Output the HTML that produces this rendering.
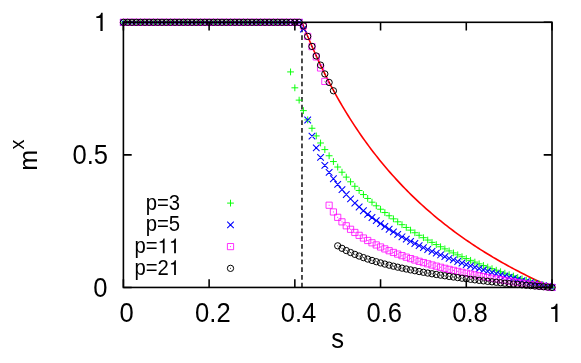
<!DOCTYPE html>
<html><head><meta charset="utf-8"><title>m^x vs s</title>
<style>
html,body{margin:0;padding:0;background:#fff;}
body{width:581px;height:363px;overflow:hidden;}
svg{display:block;will-change:transform;}
text{font-family:"Liberation Sans",sans-serif;fill:#000;}
</style></head><body>
<svg width="581" height="363" viewBox="0 0 581 363">
<rect width="581" height="363" fill="#fff"/>
<path d="M301.98 22.3 L304.08 27.59 L306.19 32.75 L308.29 37.8 L310.39 42.73 L312.49 47.55 L314.59 52.27 L316.69 56.88 L318.79 61.4 L320.89 65.82 L322.99 70.15 L325.09 74.38 L327.2 78.53 L329.3 82.6 L331.4 86.58 L333.5 90.48 L335.6 94.31 L337.7 98.06 L339.8 101.73 L341.9 105.34 L344 108.88 L346.1 112.35 L348.2 115.76 L350.31 119.1 L352.41 122.38 L354.51 125.61 L356.61 128.77 L358.71 131.88 L360.81 134.93 L362.91 137.93 L365.01 140.88 L367.11 143.77 L369.21 146.62 L371.32 149.42 L373.42 152.17 L375.52 154.88 L377.62 157.54 L379.72 160.15 L381.82 162.73 L383.92 165.26 L386.02 167.75 L388.12 170.21 L390.22 172.62 L392.33 175 L394.43 177.34 L396.53 179.64 L398.63 181.91 L400.73 184.14 L402.83 186.35 L404.93 188.51 L407.03 190.65 L409.13 192.75 L411.23 194.83 L413.34 196.87 L415.44 198.88 L417.54 200.87 L419.64 202.83 L421.74 204.76 L423.84 206.66 L425.94 208.54 L428.04 210.39 L430.14 212.21 L432.24 214.01 L434.35 215.79 L436.45 217.54 L438.55 219.27 L440.65 220.97 L442.75 222.66 L444.85 224.32 L446.95 225.96 L449.05 227.58 L451.15 229.18 L453.25 230.75 L455.35 232.31 L457.46 233.85 L459.56 235.37 L461.66 236.87 L463.76 238.35 L465.86 239.81 L467.96 241.26 L470.06 242.68 L472.16 244.1 L474.26 245.49 L476.36 246.87 L478.47 248.23 L480.57 249.57 L482.67 250.9 L484.77 252.21 L486.87 253.51 L488.97 254.8 L491.07 256.06 L493.17 257.32 L495.27 258.56 L497.37 259.79 L499.48 261 L501.58 262.2 L503.68 263.38 L505.78 264.56 L507.88 265.72 L509.98 266.86 L512.08 268 L514.18 269.12 L516.28 270.23 L518.38 271.33 L520.49 272.42 L522.59 273.49 L524.69 274.56 L526.79 275.61 L528.89 276.66 L530.99 277.69 L533.09 278.71 L535.19 279.72 L537.29 280.72 L539.39 281.71 L541.5 282.69 L543.6 283.66 L545.7 284.62 L547.8 285.57 L549.9 286.52 L552 287.45" fill="none" stroke="#f00" stroke-width="1.6" stroke-linejoin="round"/>
<path d="M301.98 287.45V22.3" fill="none" stroke="#000" stroke-width="1.4" stroke-dasharray="4.7 3.035"/>
<g fill="none" stroke-width="0.9">
<path d="M120 22.3h6.8M123.4 18.9v6.8M124.29 22.3h6.8M127.69 18.9v6.8M128.57 22.3h6.8M131.97 18.9v6.8M132.86 22.3h6.8M136.26 18.9v6.8M137.14 22.3h6.8M140.54 18.9v6.8M141.43 22.3h6.8M144.83 18.9v6.8M145.72 22.3h6.8M149.12 18.9v6.8M150 22.3h6.8M153.4 18.9v6.8M154.29 22.3h6.8M157.69 18.9v6.8M158.57 22.3h6.8M161.97 18.9v6.8M162.86 22.3h6.8M166.26 18.9v6.8M167.15 22.3h6.8M170.55 18.9v6.8M171.43 22.3h6.8M174.83 18.9v6.8M175.72 22.3h6.8M179.12 18.9v6.8M180 22.3h6.8M183.4 18.9v6.8M184.29 22.3h6.8M187.69 18.9v6.8M188.58 22.3h6.8M191.98 18.9v6.8M192.86 22.3h6.8M196.26 18.9v6.8M197.15 22.3h6.8M200.55 18.9v6.8M201.43 22.3h6.8M204.83 18.9v6.8M205.72 22.3h6.8M209.12 18.9v6.8M210.01 22.3h6.8M213.41 18.9v6.8M214.29 22.3h6.8M217.69 18.9v6.8M218.58 22.3h6.8M221.98 18.9v6.8M222.86 22.3h6.8M226.26 18.9v6.8M227.15 22.3h6.8M230.55 18.9v6.8M231.44 22.3h6.8M234.84 18.9v6.8M235.72 22.3h6.8M239.12 18.9v6.8M240.01 22.3h6.8M243.41 18.9v6.8M244.29 22.3h6.8M247.69 18.9v6.8M248.58 22.3h6.8M251.98 18.9v6.8M252.87 22.3h6.8M256.27 18.9v6.8M257.15 22.3h6.8M260.55 18.9v6.8M261.44 22.3h6.8M264.84 18.9v6.8M265.72 22.3h6.8M269.12 18.9v6.8M270.01 22.3h6.8M273.41 18.9v6.8M274.3 22.3h6.8M277.7 18.9v6.8M278.58 22.3h6.8M281.98 18.9v6.8M282.87 22.3h6.8M286.27 18.9v6.8M287.15 71.92h6.8M290.55 68.52v6.8M291.44 87.82h6.8M294.84 84.42v6.8M295.73 100.14h6.8M299.13 96.74v6.8M300.01 110.61h6.8M303.41 107.21v6.8M304.3 119.88h6.8M307.7 116.48v6.8M308.58 128.25h6.8M311.98 124.85v6.8M312.87 135.91h6.8M316.27 132.51v6.8M317.16 142.99h6.8M320.56 139.59v6.8M321.44 149.58h6.8M324.84 146.18v6.8M325.73 155.76h6.8M329.13 152.36v6.8M330.01 161.55h6.8M333.41 158.15v6.8M334.3 167.03h6.8M337.7 163.63v6.8M338.59 172.21h6.8M341.99 168.81v6.8M342.87 177.12h6.8M346.27 173.72v6.8M347.16 181.79h6.8M350.56 178.39v6.8M351.44 186.25h6.8M354.84 182.85v6.8M355.73 190.5h6.8M359.13 187.1v6.8M360.02 194.57h6.8M363.42 191.17v6.8M364.3 198.46h6.8M367.7 195.06v6.8M368.59 202.2h6.8M371.99 198.8v6.8M372.87 205.79h6.8M376.27 202.39v6.8M377.16 209.23h6.8M380.56 205.83v6.8M381.45 212.55h6.8M384.85 209.15v6.8M385.73 215.75h6.8M389.13 212.35v6.8M390.02 218.83h6.8M393.42 215.43v6.8M394.3 221.8h6.8M397.7 218.4v6.8M398.59 224.68h6.8M401.99 221.28v6.8M402.88 227.45h6.8M406.28 224.05v6.8M407.16 230.14h6.8M410.56 226.74v6.8M411.45 232.74h6.8M414.85 229.34v6.8M415.73 235.26h6.8M419.13 231.86v6.8M420.02 237.7h6.8M423.42 234.3v6.8M424.31 240.06h6.8M427.71 236.66v6.8M428.59 242.36h6.8M431.99 238.96v6.8M432.88 244.59h6.8M436.28 241.19v6.8M437.16 246.76h6.8M440.56 243.36v6.8M441.45 248.86h6.8M444.85 245.46v6.8M445.74 250.91h6.8M449.14 247.51v6.8M450.02 252.9h6.8M453.42 249.5v6.8M454.31 254.84h6.8M457.71 251.44v6.8M458.59 256.72h6.8M461.99 253.32v6.8M462.88 258.56h6.8M466.28 255.16v6.8M467.17 260.35h6.8M470.57 256.95v6.8M471.45 262.1h6.8M474.85 258.7v6.8M475.74 263.8h6.8M479.14 260.4v6.8M480.02 265.46h6.8M483.42 262.06v6.8M484.31 267.08h6.8M487.71 263.68v6.8M488.6 268.67h6.8M492 265.27v6.8M492.88 270.21h6.8M496.28 266.81v6.8M497.17 271.72h6.8M500.57 268.32v6.8M501.45 273.19h6.8M504.85 269.79v6.8M505.74 274.64h6.8M509.14 271.24v6.8M510.03 276.04h6.8M513.43 272.64v6.8M514.31 277.42h6.8M517.71 274.02v6.8M518.6 278.77h6.8M522 275.37v6.8M522.88 280.09h6.8M526.28 276.69v6.8M527.17 281.38h6.8M530.57 277.98v6.8M531.46 282.65h6.8M534.86 279.25v6.8M535.74 283.88h6.8M539.14 280.48v6.8M540.03 285.1h6.8M543.43 281.7v6.8M544.31 286.29h6.8M547.71 282.89v6.8M548.6 287.45h6.8M552 284.05v6.8M227.1 203.1h6.8M230.5 199.7v6.8" stroke="#0f0" stroke-width="0.95"/>
<path d="M120.1 19l6.6 6.6M120.1 25.6l6.6 -6.6M124.39 19l6.6 6.6M124.39 25.6l6.6 -6.6M128.67 19l6.6 6.6M128.67 25.6l6.6 -6.6M132.96 19l6.6 6.6M132.96 25.6l6.6 -6.6M137.24 19l6.6 6.6M137.24 25.6l6.6 -6.6M141.53 19l6.6 6.6M141.53 25.6l6.6 -6.6M145.82 19l6.6 6.6M145.82 25.6l6.6 -6.6M150.1 19l6.6 6.6M150.1 25.6l6.6 -6.6M154.39 19l6.6 6.6M154.39 25.6l6.6 -6.6M158.67 19l6.6 6.6M158.67 25.6l6.6 -6.6M162.96 19l6.6 6.6M162.96 25.6l6.6 -6.6M167.25 19l6.6 6.6M167.25 25.6l6.6 -6.6M171.53 19l6.6 6.6M171.53 25.6l6.6 -6.6M175.82 19l6.6 6.6M175.82 25.6l6.6 -6.6M180.1 19l6.6 6.6M180.1 25.6l6.6 -6.6M184.39 19l6.6 6.6M184.39 25.6l6.6 -6.6M188.68 19l6.6 6.6M188.68 25.6l6.6 -6.6M192.96 19l6.6 6.6M192.96 25.6l6.6 -6.6M197.25 19l6.6 6.6M197.25 25.6l6.6 -6.6M201.53 19l6.6 6.6M201.53 25.6l6.6 -6.6M205.82 19l6.6 6.6M205.82 25.6l6.6 -6.6M210.11 19l6.6 6.6M210.11 25.6l6.6 -6.6M214.39 19l6.6 6.6M214.39 25.6l6.6 -6.6M218.68 19l6.6 6.6M218.68 25.6l6.6 -6.6M222.96 19l6.6 6.6M222.96 25.6l6.6 -6.6M227.25 19l6.6 6.6M227.25 25.6l6.6 -6.6M231.54 19l6.6 6.6M231.54 25.6l6.6 -6.6M235.82 19l6.6 6.6M235.82 25.6l6.6 -6.6M240.11 19l6.6 6.6M240.11 25.6l6.6 -6.6M244.39 19l6.6 6.6M244.39 25.6l6.6 -6.6M248.68 19l6.6 6.6M248.68 25.6l6.6 -6.6M252.97 19l6.6 6.6M252.97 25.6l6.6 -6.6M257.25 19l6.6 6.6M257.25 25.6l6.6 -6.6M261.54 19l6.6 6.6M261.54 25.6l6.6 -6.6M265.82 19l6.6 6.6M265.82 25.6l6.6 -6.6M270.11 19l6.6 6.6M270.11 25.6l6.6 -6.6M274.4 19l6.6 6.6M274.4 25.6l6.6 -6.6M278.68 19l6.6 6.6M278.68 25.6l6.6 -6.6M282.97 19l6.6 6.6M282.97 25.6l6.6 -6.6M287.25 19l6.6 6.6M287.25 25.6l6.6 -6.6M291.54 19l6.6 6.6M291.54 25.6l6.6 -6.6M295.83 19l6.6 6.6M295.83 25.6l6.6 -6.6M300.11 25.68l6.6 6.6M300.11 32.28l6.6 -6.6M304.4 116.74l6.6 6.6M304.4 123.34l6.6 -6.6M308.68 132.89l6.6 6.6M308.68 139.49l6.6 -6.6M312.97 144.59l6.6 6.6M312.97 151.19l6.6 -6.6M317.26 154.04l6.6 6.6M317.26 160.64l6.6 -6.6M321.54 162.08l6.6 6.6M321.54 168.68l6.6 -6.6M325.83 169.12l6.6 6.6M325.83 175.72l6.6 -6.6M330.11 175.41l6.6 6.6M330.11 182.01l6.6 -6.6M334.4 181.12l6.6 6.6M334.4 187.72l6.6 -6.6M338.69 186.34l6.6 6.6M338.69 192.94l6.6 -6.6M342.97 191.16l6.6 6.6M342.97 197.76l6.6 -6.6M347.26 195.63l6.6 6.6M347.26 202.23l6.6 -6.6M351.54 199.82l6.6 6.6M351.54 206.42l6.6 -6.6M355.83 203.74l6.6 6.6M355.83 210.34l6.6 -6.6M360.12 207.43l6.6 6.6M360.12 214.03l6.6 -6.6M364.4 210.93l6.6 6.6M364.4 217.53l6.6 -6.6M368.69 214.24l6.6 6.6M368.69 220.84l6.6 -6.6M372.97 217.38l6.6 6.6M372.97 223.98l6.6 -6.6M377.26 220.37l6.6 6.6M377.26 226.97l6.6 -6.6M381.55 223.23l6.6 6.6M381.55 229.83l6.6 -6.6M385.83 225.96l6.6 6.6M385.83 232.56l6.6 -6.6M390.12 228.58l6.6 6.6M390.12 235.18l6.6 -6.6M394.4 231.09l6.6 6.6M394.4 237.69l6.6 -6.6M398.69 233.5l6.6 6.6M398.69 240.1l6.6 -6.6M402.98 235.81l6.6 6.6M402.98 242.41l6.6 -6.6M407.26 238.04l6.6 6.6M407.26 244.64l6.6 -6.6M411.55 240.19l6.6 6.6M411.55 246.79l6.6 -6.6M415.83 242.27l6.6 6.6M415.83 248.87l6.6 -6.6M420.12 244.27l6.6 6.6M420.12 250.87l6.6 -6.6M424.41 246.2l6.6 6.6M424.41 252.8l6.6 -6.6M428.69 248.08l6.6 6.6M428.69 254.68l6.6 -6.6M432.98 249.89l6.6 6.6M432.98 256.49l6.6 -6.6M437.26 251.65l6.6 6.6M437.26 258.25l6.6 -6.6M441.55 253.35l6.6 6.6M441.55 259.95l6.6 -6.6M445.84 255l6.6 6.6M445.84 261.6l6.6 -6.6M450.12 256.61l6.6 6.6M450.12 263.21l6.6 -6.6M454.41 258.17l6.6 6.6M454.41 264.77l6.6 -6.6M458.69 259.68l6.6 6.6M458.69 266.28l6.6 -6.6M462.98 261.16l6.6 6.6M462.98 267.76l6.6 -6.6M467.27 262.59l6.6 6.6M467.27 269.19l6.6 -6.6M471.55 263.99l6.6 6.6M471.55 270.59l6.6 -6.6M475.84 265.35l6.6 6.6M475.84 271.95l6.6 -6.6M480.12 266.68l6.6 6.6M480.12 273.28l6.6 -6.6M484.41 267.97l6.6 6.6M484.41 274.57l6.6 -6.6M488.7 269.23l6.6 6.6M488.7 275.83l6.6 -6.6M492.98 270.46l6.6 6.6M492.98 277.06l6.6 -6.6M497.27 271.66l6.6 6.6M497.27 278.26l6.6 -6.6M501.55 272.83l6.6 6.6M501.55 279.43l6.6 -6.6M505.84 273.98l6.6 6.6M505.84 280.58l6.6 -6.6M510.13 275.1l6.6 6.6M510.13 281.7l6.6 -6.6M514.41 276.19l6.6 6.6M514.41 282.79l6.6 -6.6M518.7 277.26l6.6 6.6M518.7 283.86l6.6 -6.6M522.98 278.31l6.6 6.6M522.98 284.91l6.6 -6.6M527.27 279.34l6.6 6.6M527.27 285.94l6.6 -6.6M531.56 280.34l6.6 6.6M531.56 286.94l6.6 -6.6M535.84 281.32l6.6 6.6M535.84 287.92l6.6 -6.6M540.13 282.28l6.6 6.6M540.13 288.88l6.6 -6.6M544.41 283.23l6.6 6.6M544.41 289.83l6.6 -6.6M548.7 284.15l6.6 6.6M548.7 290.75l6.6 -6.6M227.2 221.55l6.6 6.6M227.2 228.15l6.6 -6.6" stroke="#00f" stroke-width="1.05"/>
<path d="M120.3 19.2h6.2v6.2h-6.2zM124.59 19.2h6.2v6.2h-6.2zM128.87 19.2h6.2v6.2h-6.2zM133.16 19.2h6.2v6.2h-6.2zM137.44 19.2h6.2v6.2h-6.2zM141.73 19.2h6.2v6.2h-6.2zM146.02 19.2h6.2v6.2h-6.2zM150.3 19.2h6.2v6.2h-6.2zM154.59 19.2h6.2v6.2h-6.2zM158.87 19.2h6.2v6.2h-6.2zM163.16 19.2h6.2v6.2h-6.2zM167.45 19.2h6.2v6.2h-6.2zM171.73 19.2h6.2v6.2h-6.2zM176.02 19.2h6.2v6.2h-6.2zM180.3 19.2h6.2v6.2h-6.2zM184.59 19.2h6.2v6.2h-6.2zM188.88 19.2h6.2v6.2h-6.2zM193.16 19.2h6.2v6.2h-6.2zM197.45 19.2h6.2v6.2h-6.2zM201.73 19.2h6.2v6.2h-6.2zM206.02 19.2h6.2v6.2h-6.2zM210.31 19.2h6.2v6.2h-6.2zM214.59 19.2h6.2v6.2h-6.2zM218.88 19.2h6.2v6.2h-6.2zM223.16 19.2h6.2v6.2h-6.2zM227.45 19.2h6.2v6.2h-6.2zM231.74 19.2h6.2v6.2h-6.2zM236.02 19.2h6.2v6.2h-6.2zM240.31 19.2h6.2v6.2h-6.2zM244.59 19.2h6.2v6.2h-6.2zM248.88 19.2h6.2v6.2h-6.2zM253.17 19.2h6.2v6.2h-6.2zM257.45 19.2h6.2v6.2h-6.2zM261.74 19.2h6.2v6.2h-6.2zM266.02 19.2h6.2v6.2h-6.2zM270.31 19.2h6.2v6.2h-6.2zM274.6 19.2h6.2v6.2h-6.2zM278.88 19.2h6.2v6.2h-6.2zM283.17 19.2h6.2v6.2h-6.2zM287.45 19.2h6.2v6.2h-6.2zM291.74 19.2h6.2v6.2h-6.2zM296.03 19.2h6.2v6.2h-6.2zM300.31 22.81h6.2v6.2h-6.2zM304.6 33.32h6.2v6.2h-6.2zM308.88 43.53h6.2v6.2h-6.2zM313.17 53.82h6.2v6.2h-6.2zM317.46 64.87h6.2v6.2h-6.2zM321.74 78.31h6.2v6.2h-6.2zM326.03 202.14h6.2v6.2h-6.2zM330.31 208.86h6.2v6.2h-6.2zM334.6 214.23h6.2v6.2h-6.2zM338.89 218.75h6.2v6.2h-6.2zM343.17 222.69h6.2v6.2h-6.2zM347.46 226.2h6.2v6.2h-6.2zM351.74 229.36h6.2v6.2h-6.2zM356.03 232.25h6.2v6.2h-6.2zM360.32 234.92h6.2v6.2h-6.2zM364.6 237.39h6.2v6.2h-6.2zM368.89 239.69h6.2v6.2h-6.2zM373.17 241.85h6.2v6.2h-6.2zM377.46 243.88h6.2v6.2h-6.2zM381.75 245.8h6.2v6.2h-6.2zM386.03 247.62h6.2v6.2h-6.2zM390.32 249.35h6.2v6.2h-6.2zM394.6 250.99h6.2v6.2h-6.2zM398.89 252.56h6.2v6.2h-6.2zM403.18 254.07h6.2v6.2h-6.2zM407.46 255.51h6.2v6.2h-6.2zM411.75 256.89h6.2v6.2h-6.2zM416.03 258.22h6.2v6.2h-6.2zM420.32 259.49h6.2v6.2h-6.2zM424.61 260.72h6.2v6.2h-6.2zM428.89 261.91h6.2v6.2h-6.2zM433.18 263.05h6.2v6.2h-6.2zM437.46 264.16h6.2v6.2h-6.2zM441.75 265.23h6.2v6.2h-6.2zM446.04 266.27h6.2v6.2h-6.2zM450.32 267.28h6.2v6.2h-6.2zM454.61 268.25h6.2v6.2h-6.2zM458.89 269.2h6.2v6.2h-6.2zM463.18 270.12h6.2v6.2h-6.2zM467.47 271.01h6.2v6.2h-6.2zM471.75 271.88h6.2v6.2h-6.2zM476.04 272.73h6.2v6.2h-6.2zM480.32 273.55h6.2v6.2h-6.2zM484.61 274.35h6.2v6.2h-6.2zM488.9 275.13h6.2v6.2h-6.2zM493.18 275.89h6.2v6.2h-6.2zM497.47 276.64h6.2v6.2h-6.2zM501.75 277.36h6.2v6.2h-6.2zM506.04 278.07h6.2v6.2h-6.2zM510.33 278.76h6.2v6.2h-6.2zM514.61 279.44h6.2v6.2h-6.2zM518.9 280.1h6.2v6.2h-6.2zM523.18 280.75h6.2v6.2h-6.2zM527.47 281.38h6.2v6.2h-6.2zM531.76 282h6.2v6.2h-6.2zM536.04 282.6h6.2v6.2h-6.2zM540.33 283.2h6.2v6.2h-6.2zM544.61 283.78h6.2v6.2h-6.2zM548.9 284.35h6.2v6.2h-6.2zM227.4 243.5h6.2v6.2h-6.2z" stroke="#f0f" stroke-width="0.8"/>
<path d="M122.95 22.3h0.9M127.24 22.3h0.9M131.52 22.3h0.9M135.81 22.3h0.9M140.09 22.3h0.9M144.38 22.3h0.9M148.67 22.3h0.9M152.95 22.3h0.9M157.24 22.3h0.9M161.52 22.3h0.9M165.81 22.3h0.9M170.1 22.3h0.9M174.38 22.3h0.9M178.67 22.3h0.9M182.95 22.3h0.9M187.24 22.3h0.9M191.53 22.3h0.9M195.81 22.3h0.9M200.1 22.3h0.9M204.38 22.3h0.9M208.67 22.3h0.9M212.96 22.3h0.9M217.24 22.3h0.9M221.53 22.3h0.9M225.81 22.3h0.9M230.1 22.3h0.9M234.39 22.3h0.9M238.67 22.3h0.9M242.96 22.3h0.9M247.24 22.3h0.9M251.53 22.3h0.9M255.82 22.3h0.9M260.1 22.3h0.9M264.39 22.3h0.9M268.67 22.3h0.9M272.96 22.3h0.9M277.25 22.3h0.9M281.53 22.3h0.9M285.82 22.3h0.9M290.1 22.3h0.9M294.39 22.3h0.9M298.68 22.3h0.9M302.96 25.91h0.9M307.25 36.42h0.9M311.53 46.63h0.9M315.82 56.92h0.9M320.11 67.97h0.9M324.39 81.41h0.9M328.68 205.24h0.9M332.96 211.96h0.9M337.25 217.33h0.9M341.54 221.85h0.9M345.82 225.79h0.9M350.11 229.3h0.9M354.39 232.46h0.9M358.68 235.35h0.9M362.97 238.02h0.9M367.25 240.49h0.9M371.54 242.79h0.9M375.82 244.95h0.9M380.11 246.98h0.9M384.4 248.9h0.9M388.68 250.72h0.9M392.97 252.45h0.9M397.25 254.09h0.9M401.54 255.66h0.9M405.83 257.17h0.9M410.11 258.61h0.9M414.4 259.99h0.9M418.68 261.32h0.9M422.97 262.59h0.9M427.26 263.82h0.9M431.54 265.01h0.9M435.83 266.15h0.9M440.11 267.26h0.9M444.4 268.33h0.9M448.69 269.37h0.9M452.97 270.38h0.9M457.26 271.35h0.9M461.54 272.3h0.9M465.83 273.22h0.9M470.12 274.11h0.9M474.4 274.98h0.9M478.69 275.83h0.9M482.97 276.65h0.9M487.26 277.45h0.9M491.55 278.23h0.9M495.83 278.99h0.9M500.12 279.74h0.9M504.4 280.46h0.9M508.69 281.17h0.9M512.98 281.86h0.9M517.26 282.54h0.9M521.55 283.2h0.9M525.83 283.85h0.9M530.12 284.48h0.9M534.41 285.1h0.9M538.69 285.7h0.9M542.98 286.3h0.9M547.26 286.88h0.9M551.55 287.45h0.9M230.05 246.6h0.9" stroke="#f0f" stroke-width="0.9"/>
<path d="M120.25 22.3a3.15 3.15 0 1 0 6.3 0a3.15 3.15 0 1 0 -6.3 0zM124.54 22.3a3.15 3.15 0 1 0 6.3 0a3.15 3.15 0 1 0 -6.3 0zM128.82 22.3a3.15 3.15 0 1 0 6.3 0a3.15 3.15 0 1 0 -6.3 0zM133.11 22.3a3.15 3.15 0 1 0 6.3 0a3.15 3.15 0 1 0 -6.3 0zM137.39 22.3a3.15 3.15 0 1 0 6.3 0a3.15 3.15 0 1 0 -6.3 0zM141.68 22.3a3.15 3.15 0 1 0 6.3 0a3.15 3.15 0 1 0 -6.3 0zM145.97 22.3a3.15 3.15 0 1 0 6.3 0a3.15 3.15 0 1 0 -6.3 0zM150.25 22.3a3.15 3.15 0 1 0 6.3 0a3.15 3.15 0 1 0 -6.3 0zM154.54 22.3a3.15 3.15 0 1 0 6.3 0a3.15 3.15 0 1 0 -6.3 0zM158.82 22.3a3.15 3.15 0 1 0 6.3 0a3.15 3.15 0 1 0 -6.3 0zM163.11 22.3a3.15 3.15 0 1 0 6.3 0a3.15 3.15 0 1 0 -6.3 0zM167.4 22.3a3.15 3.15 0 1 0 6.3 0a3.15 3.15 0 1 0 -6.3 0zM171.68 22.3a3.15 3.15 0 1 0 6.3 0a3.15 3.15 0 1 0 -6.3 0zM175.97 22.3a3.15 3.15 0 1 0 6.3 0a3.15 3.15 0 1 0 -6.3 0zM180.25 22.3a3.15 3.15 0 1 0 6.3 0a3.15 3.15 0 1 0 -6.3 0zM184.54 22.3a3.15 3.15 0 1 0 6.3 0a3.15 3.15 0 1 0 -6.3 0zM188.83 22.3a3.15 3.15 0 1 0 6.3 0a3.15 3.15 0 1 0 -6.3 0zM193.11 22.3a3.15 3.15 0 1 0 6.3 0a3.15 3.15 0 1 0 -6.3 0zM197.4 22.3a3.15 3.15 0 1 0 6.3 0a3.15 3.15 0 1 0 -6.3 0zM201.68 22.3a3.15 3.15 0 1 0 6.3 0a3.15 3.15 0 1 0 -6.3 0zM205.97 22.3a3.15 3.15 0 1 0 6.3 0a3.15 3.15 0 1 0 -6.3 0zM210.26 22.3a3.15 3.15 0 1 0 6.3 0a3.15 3.15 0 1 0 -6.3 0zM214.54 22.3a3.15 3.15 0 1 0 6.3 0a3.15 3.15 0 1 0 -6.3 0zM218.83 22.3a3.15 3.15 0 1 0 6.3 0a3.15 3.15 0 1 0 -6.3 0zM223.11 22.3a3.15 3.15 0 1 0 6.3 0a3.15 3.15 0 1 0 -6.3 0zM227.4 22.3a3.15 3.15 0 1 0 6.3 0a3.15 3.15 0 1 0 -6.3 0zM231.69 22.3a3.15 3.15 0 1 0 6.3 0a3.15 3.15 0 1 0 -6.3 0zM235.97 22.3a3.15 3.15 0 1 0 6.3 0a3.15 3.15 0 1 0 -6.3 0zM240.26 22.3a3.15 3.15 0 1 0 6.3 0a3.15 3.15 0 1 0 -6.3 0zM244.54 22.3a3.15 3.15 0 1 0 6.3 0a3.15 3.15 0 1 0 -6.3 0zM248.83 22.3a3.15 3.15 0 1 0 6.3 0a3.15 3.15 0 1 0 -6.3 0zM253.12 22.3a3.15 3.15 0 1 0 6.3 0a3.15 3.15 0 1 0 -6.3 0zM257.4 22.3a3.15 3.15 0 1 0 6.3 0a3.15 3.15 0 1 0 -6.3 0zM261.69 22.3a3.15 3.15 0 1 0 6.3 0a3.15 3.15 0 1 0 -6.3 0zM265.97 22.3a3.15 3.15 0 1 0 6.3 0a3.15 3.15 0 1 0 -6.3 0zM270.26 22.3a3.15 3.15 0 1 0 6.3 0a3.15 3.15 0 1 0 -6.3 0zM274.55 22.3a3.15 3.15 0 1 0 6.3 0a3.15 3.15 0 1 0 -6.3 0zM278.83 22.3a3.15 3.15 0 1 0 6.3 0a3.15 3.15 0 1 0 -6.3 0zM283.12 22.3a3.15 3.15 0 1 0 6.3 0a3.15 3.15 0 1 0 -6.3 0zM287.4 22.3a3.15 3.15 0 1 0 6.3 0a3.15 3.15 0 1 0 -6.3 0zM291.69 22.3a3.15 3.15 0 1 0 6.3 0a3.15 3.15 0 1 0 -6.3 0zM295.98 22.3a3.15 3.15 0 1 0 6.3 0a3.15 3.15 0 1 0 -6.3 0zM300.26 25.91a3.15 3.15 0 1 0 6.3 0a3.15 3.15 0 1 0 -6.3 0zM304.55 36.39a3.15 3.15 0 1 0 6.3 0a3.15 3.15 0 1 0 -6.3 0zM308.83 46.4a3.15 3.15 0 1 0 6.3 0a3.15 3.15 0 1 0 -6.3 0zM313.12 55.97a3.15 3.15 0 1 0 6.3 0a3.15 3.15 0 1 0 -6.3 0zM317.41 65.13a3.15 3.15 0 1 0 6.3 0a3.15 3.15 0 1 0 -6.3 0zM321.69 73.93a3.15 3.15 0 1 0 6.3 0a3.15 3.15 0 1 0 -6.3 0zM325.98 82.43a3.15 3.15 0 1 0 6.3 0a3.15 3.15 0 1 0 -6.3 0zM330.26 90.77a3.15 3.15 0 1 0 6.3 0a3.15 3.15 0 1 0 -6.3 0zM334.55 245.83a3.15 3.15 0 1 0 6.3 0a3.15 3.15 0 1 0 -6.3 0zM338.84 248.32a3.15 3.15 0 1 0 6.3 0a3.15 3.15 0 1 0 -6.3 0zM343.12 250.54a3.15 3.15 0 1 0 6.3 0a3.15 3.15 0 1 0 -6.3 0zM347.41 252.54a3.15 3.15 0 1 0 6.3 0a3.15 3.15 0 1 0 -6.3 0zM351.69 254.37a3.15 3.15 0 1 0 6.3 0a3.15 3.15 0 1 0 -6.3 0zM355.98 256.05a3.15 3.15 0 1 0 6.3 0a3.15 3.15 0 1 0 -6.3 0zM360.27 257.61a3.15 3.15 0 1 0 6.3 0a3.15 3.15 0 1 0 -6.3 0zM364.55 259.06a3.15 3.15 0 1 0 6.3 0a3.15 3.15 0 1 0 -6.3 0zM368.84 260.43a3.15 3.15 0 1 0 6.3 0a3.15 3.15 0 1 0 -6.3 0zM373.12 261.71a3.15 3.15 0 1 0 6.3 0a3.15 3.15 0 1 0 -6.3 0zM377.41 262.92a3.15 3.15 0 1 0 6.3 0a3.15 3.15 0 1 0 -6.3 0zM381.7 264.07a3.15 3.15 0 1 0 6.3 0a3.15 3.15 0 1 0 -6.3 0zM385.98 265.16a3.15 3.15 0 1 0 6.3 0a3.15 3.15 0 1 0 -6.3 0zM390.27 266.19a3.15 3.15 0 1 0 6.3 0a3.15 3.15 0 1 0 -6.3 0zM394.55 267.18a3.15 3.15 0 1 0 6.3 0a3.15 3.15 0 1 0 -6.3 0zM398.84 268.13a3.15 3.15 0 1 0 6.3 0a3.15 3.15 0 1 0 -6.3 0zM403.13 269.03a3.15 3.15 0 1 0 6.3 0a3.15 3.15 0 1 0 -6.3 0zM407.41 269.9a3.15 3.15 0 1 0 6.3 0a3.15 3.15 0 1 0 -6.3 0zM411.7 270.74a3.15 3.15 0 1 0 6.3 0a3.15 3.15 0 1 0 -6.3 0zM415.98 271.54a3.15 3.15 0 1 0 6.3 0a3.15 3.15 0 1 0 -6.3 0zM420.27 272.31a3.15 3.15 0 1 0 6.3 0a3.15 3.15 0 1 0 -6.3 0zM424.56 273.06a3.15 3.15 0 1 0 6.3 0a3.15 3.15 0 1 0 -6.3 0zM428.84 273.78a3.15 3.15 0 1 0 6.3 0a3.15 3.15 0 1 0 -6.3 0zM433.13 274.48a3.15 3.15 0 1 0 6.3 0a3.15 3.15 0 1 0 -6.3 0zM437.41 275.15a3.15 3.15 0 1 0 6.3 0a3.15 3.15 0 1 0 -6.3 0zM441.7 275.8a3.15 3.15 0 1 0 6.3 0a3.15 3.15 0 1 0 -6.3 0zM445.99 276.43a3.15 3.15 0 1 0 6.3 0a3.15 3.15 0 1 0 -6.3 0zM450.27 277.04a3.15 3.15 0 1 0 6.3 0a3.15 3.15 0 1 0 -6.3 0zM454.56 277.63a3.15 3.15 0 1 0 6.3 0a3.15 3.15 0 1 0 -6.3 0zM458.84 278.21a3.15 3.15 0 1 0 6.3 0a3.15 3.15 0 1 0 -6.3 0zM463.13 278.77a3.15 3.15 0 1 0 6.3 0a3.15 3.15 0 1 0 -6.3 0zM467.42 279.31a3.15 3.15 0 1 0 6.3 0a3.15 3.15 0 1 0 -6.3 0zM471.7 279.84a3.15 3.15 0 1 0 6.3 0a3.15 3.15 0 1 0 -6.3 0zM475.99 280.36a3.15 3.15 0 1 0 6.3 0a3.15 3.15 0 1 0 -6.3 0zM480.27 280.86a3.15 3.15 0 1 0 6.3 0a3.15 3.15 0 1 0 -6.3 0zM484.56 281.35a3.15 3.15 0 1 0 6.3 0a3.15 3.15 0 1 0 -6.3 0zM488.85 281.83a3.15 3.15 0 1 0 6.3 0a3.15 3.15 0 1 0 -6.3 0zM493.13 282.29a3.15 3.15 0 1 0 6.3 0a3.15 3.15 0 1 0 -6.3 0zM497.42 282.74a3.15 3.15 0 1 0 6.3 0a3.15 3.15 0 1 0 -6.3 0zM501.7 283.19a3.15 3.15 0 1 0 6.3 0a3.15 3.15 0 1 0 -6.3 0zM505.99 283.62a3.15 3.15 0 1 0 6.3 0a3.15 3.15 0 1 0 -6.3 0zM510.28 284.04a3.15 3.15 0 1 0 6.3 0a3.15 3.15 0 1 0 -6.3 0zM514.56 284.45a3.15 3.15 0 1 0 6.3 0a3.15 3.15 0 1 0 -6.3 0zM518.85 284.86a3.15 3.15 0 1 0 6.3 0a3.15 3.15 0 1 0 -6.3 0zM523.13 285.25a3.15 3.15 0 1 0 6.3 0a3.15 3.15 0 1 0 -6.3 0zM527.42 285.64a3.15 3.15 0 1 0 6.3 0a3.15 3.15 0 1 0 -6.3 0zM531.71 286.02a3.15 3.15 0 1 0 6.3 0a3.15 3.15 0 1 0 -6.3 0zM535.99 286.39a3.15 3.15 0 1 0 6.3 0a3.15 3.15 0 1 0 -6.3 0zM540.28 286.75a3.15 3.15 0 1 0 6.3 0a3.15 3.15 0 1 0 -6.3 0zM544.56 287.1a3.15 3.15 0 1 0 6.3 0a3.15 3.15 0 1 0 -6.3 0zM548.85 287.45a3.15 3.15 0 1 0 6.3 0a3.15 3.15 0 1 0 -6.3 0zM227.35 268.35a3.15 3.15 0 1 0 6.3 0a3.15 3.15 0 1 0 -6.3 0z" stroke="#000" stroke-width="1"/>
<path d="M122.95 22.3h0.9M127.24 22.3h0.9M131.52 22.3h0.9M135.81 22.3h0.9M140.09 22.3h0.9M144.38 22.3h0.9M148.67 22.3h0.9M152.95 22.3h0.9M157.24 22.3h0.9M161.52 22.3h0.9M165.81 22.3h0.9M170.1 22.3h0.9M174.38 22.3h0.9M178.67 22.3h0.9M182.95 22.3h0.9M187.24 22.3h0.9M191.53 22.3h0.9M195.81 22.3h0.9M200.1 22.3h0.9M204.38 22.3h0.9M208.67 22.3h0.9M212.96 22.3h0.9M217.24 22.3h0.9M221.53 22.3h0.9M225.81 22.3h0.9M230.1 22.3h0.9M234.39 22.3h0.9M238.67 22.3h0.9M242.96 22.3h0.9M247.24 22.3h0.9M251.53 22.3h0.9M255.82 22.3h0.9M260.1 22.3h0.9M264.39 22.3h0.9M268.67 22.3h0.9M272.96 22.3h0.9M277.25 22.3h0.9M281.53 22.3h0.9M285.82 22.3h0.9M290.1 22.3h0.9M294.39 22.3h0.9M298.68 22.3h0.9M302.96 25.91h0.9M307.25 36.39h0.9M311.53 46.4h0.9M315.82 55.97h0.9M320.11 65.13h0.9M324.39 73.93h0.9M328.68 82.43h0.9M332.96 90.77h0.9M337.25 245.83h0.9M341.54 248.32h0.9M345.82 250.54h0.9M350.11 252.54h0.9M354.39 254.37h0.9M358.68 256.05h0.9M362.97 257.61h0.9M367.25 259.06h0.9M371.54 260.43h0.9M375.82 261.71h0.9M380.11 262.92h0.9M384.4 264.07h0.9M388.68 265.16h0.9M392.97 266.19h0.9M397.25 267.18h0.9M401.54 268.13h0.9M405.83 269.03h0.9M410.11 269.9h0.9M414.4 270.74h0.9M418.68 271.54h0.9M422.97 272.31h0.9M427.26 273.06h0.9M431.54 273.78h0.9M435.83 274.48h0.9M440.11 275.15h0.9M444.4 275.8h0.9M448.69 276.43h0.9M452.97 277.04h0.9M457.26 277.63h0.9M461.54 278.21h0.9M465.83 278.77h0.9M470.12 279.31h0.9M474.4 279.84h0.9M478.69 280.36h0.9M482.97 280.86h0.9M487.26 281.35h0.9M491.55 281.83h0.9M495.83 282.29h0.9M500.12 282.74h0.9M504.4 283.19h0.9M508.69 283.62h0.9M512.98 284.04h0.9M517.26 284.45h0.9M521.55 284.86h0.9M525.83 285.25h0.9M530.12 285.64h0.9M534.41 286.02h0.9M538.69 286.39h0.9M542.98 286.75h0.9M547.26 287.1h0.9M551.55 287.45h0.9M230.05 268.35h0.9" stroke="#000" stroke-width="0.9"/>
</g>
<path d="M123.4 287.45v-8.3M123.4 22.3v8.3M209.12 287.45v-8.3M209.12 22.3v8.3M294.84 287.45v-8.3M294.84 22.3v8.3M380.56 287.45v-8.3M380.56 22.3v8.3M466.28 287.45v-8.3M466.28 22.3v8.3M552 287.45v-8.3M552 22.3v8.3M123.4 287.45h8.3M552 287.45h-8.3M123.4 154.88h8.3M552 154.88h-8.3M123.4 22.3h8.3M552 22.3h-8.3" fill="none" stroke="#000" stroke-width="1.55"/>
<rect x="123.4" y="22.3" width="428.6" height="265.15" fill="none" stroke="#000" stroke-width="1.6"/>
<g font-size="25.6">
<text transform="translate(126.7 321.95) scale(1 1.08)" text-anchor="middle">0</text>
<text transform="translate(212.82 321.95) scale(1 1.08)" text-anchor="middle">0.2</text>
<text transform="translate(298.54 321.95) scale(1 1.08)" text-anchor="middle">0.4</text>
<text transform="translate(384.26 321.95) scale(1 1.08)" text-anchor="middle">0.6</text>
<text transform="translate(469.98 321.95) scale(1 1.08)" text-anchor="middle">0.8</text>
<path d="M.347 0H.259V.505H.102V.568C.19 .568 .268 .6 .291 .709H.347Z" transform="translate(548.58 321.95) scale(25.6 -25.8)"><title>1</title></path>
<text transform="translate(107.6 296.5) scale(1 1.08)" text-anchor="end">0</text>
<text transform="translate(108 163.53) scale(1 1.08)" text-anchor="end">0.5</text>
<path d="M.347 0H.259V.505H.102V.568C.19 .568 .268 .6 .291 .709H.347Z" transform="translate(93.77 30.95) scale(25.6 -25.8)"><title>1</title></path>
</g>
<g font-size="20.3">
<text transform="translate(180.15 209.7) scale(1 1.062)" text-anchor="end">p=3</text>
<text transform="translate(180.15 231.45) scale(1 1.062)" text-anchor="end">p=5</text>
<text transform="translate(157.58 253.2) scale(1 1.062)" text-anchor="end">p=</text>
<path d="M.347 0H.259V.505H.102V.568C.19 .568 .268 .6 .291 .709H.347Z" transform="translate(168.86 253.2) scale(20.3 -20.6)"><title>1</title></path>
<path d="M.347 0H.259V.505H.102V.568C.19 .568 .268 .6 .291 .709H.347Z" transform="translate(157.58 253.2) scale(20.3 -20.6)"><title>1</title></path>
<text transform="translate(168.86 274.95) scale(1 1.062)" text-anchor="end">p=2</text>
<path d="M.347 0H.259V.505H.102V.568C.19 .568 .268 .6 .291 .709H.347Z" transform="translate(168.86 274.95) scale(20.3 -20.6)"><title>1</title></path>
</g>
<g font-size="25.6"><text transform="translate(337.6 348.1) scale(1 1.08)" text-anchor="middle">s</text>
</g>
<g transform="translate(37.3 170.7) rotate(-90)"><text x="0" y="0" font-size="25">m</text><text x="21.2" y="-13.2" font-size="20">x</text></g>
</svg>
</body></html>
